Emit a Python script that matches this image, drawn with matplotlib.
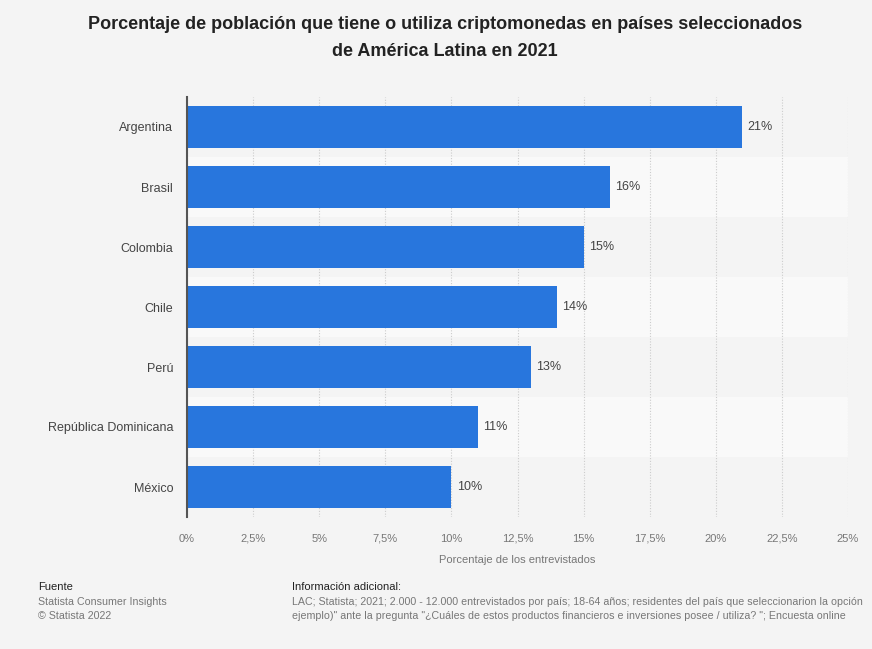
import matplotlib.pyplot as plt
from matplotlib.patches import Rectangle

plt.rcParams['font.family'] = ['Liberation Sans', 'DejaVu Sans']

paises = ["Argentina", "Brasil", "Colombia", "Chile", "Perú",
          "República Dominicana", "México"]
valores = [21, 16, 15, 14, 13, 11, 10]
ticks = [0, 2.5, 5, 7.5, 10, 12.5, 15, 17.5, 20, 22.5, 25]
tick_labels = ["0%", "2,5%", "5%", "7,5%", "10%", "12,5%", "15%",
               "17,5%", "20%", "22,5%", "25%"]

bg = "#f4f4f4"
fig = plt.figure(figsize=(8.72, 6.49), dpi=100, facecolor=bg)
ax = fig.add_axes([187 / 872, 1 - 517 / 649, 661 / 872, 420 / 649])
ax.set_facecolor(bg)

n = len(paises)
ys = list(range(n))
# bandas alternas de fondo
for i in ys:
    if i % 2 == 1:
        ax.add_patch(Rectangle((0, i - 0.5), 25.0, 1.0, facecolor="#f9f9f9",
                               edgecolor="none", zorder=0))

ax.barh(ys, valores, height=0.7, color="#2876dd", zorder=3)
for y, v in zip(ys, valores):
    ax.text(v + 0.2, y, f"{v}%", va="center", ha="left", fontsize=9,
            color="#444444", zorder=4)

ax.set_ylim(n - 0.5, -0.5)
ax.set_xlim(0, 25)
ax.set_yticks(ys)
ax.set_yticklabels(paises, fontsize=9, color="#444444")
ax.set_xticks(ticks)
ax.set_xticklabels(tick_labels, fontsize=8, color="#777777")
ax.tick_params(axis="both", length=0)
ax.tick_params(axis="y", pad=10)
ax.tick_params(axis="x", pad=12)
ax.xaxis.grid(True, linestyle=(0, (1, 1.5)), color="#cccccc", linewidth=0.8, zorder=1)
for s in ["top", "right", "bottom"]:
    ax.spines[s].set_visible(False)
ax.spines["left"].set_color("#555555")
ax.spines["left"].set_linewidth(1.5)
ax.spines["left"].set_zorder(5)
ax.set_xlabel("Porcentaje de los entrevistados", fontsize=8, color="#777777",
              labelpad=8)

fig.text(445 / 872, 1 - 38 / 649,
         "Porcentaje de población que tiene o utiliza criptomonedas en países seleccionados\n"
         "de América Latina en 2021",
         ha="center", va="center", fontsize=13.0, fontweight="bold",
         color="#222222", linespacing=1.8)

fig.text(38 / 872, 1 - 587 / 649, "Fuente", fontsize=8, color="#222222", va="center")
fig.text(38 / 872, 1 - 602 / 649, "Statista Consumer Insights", fontsize=7.7,
         color="#777777", va="center")
fig.text(38 / 872, 1 - 616 / 649, "© Statista 2022", fontsize=7.7,
         color="#777777", va="center")
fig.text(292 / 872, 1 - 587 / 649, "Información adicional:", fontsize=8,
         color="#222222", va="center")
fig.text(292 / 872, 1 - 602 / 649,
         "LAC; Statista; 2021; 2.000 - 12.000 entrevistados por país; 18-64 años; "
         "residentes del país que seleccionarion la opción",
         fontsize=7.7, color="#777777", va="center")
fig.text(292 / 872, 1 - 616 / 649,
         "ejemplo)\" ante la pregunta \"¿Cuáles de estos productos financieros e "
         "inversiones posee / utiliza? \"; Encuesta online",
         fontsize=7.7, color="#777777", va="center")

fig.savefig("out.png", dpi=100, facecolor=bg)
